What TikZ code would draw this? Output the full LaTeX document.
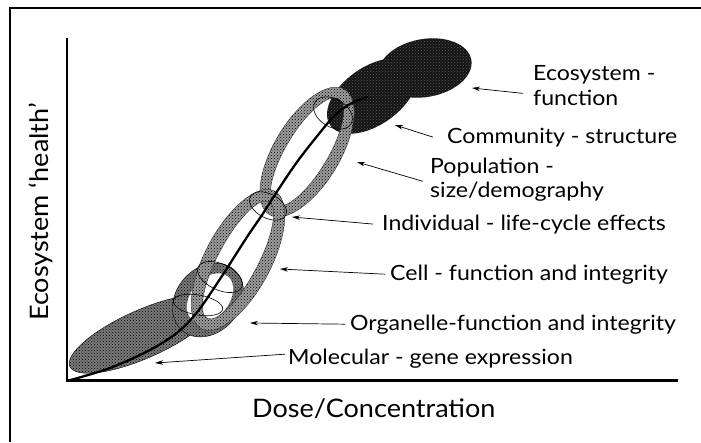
\documentclass[tikz,border=0pt]{standalone}
\usepackage{fontspec}
\setmainfont{Lato}[FakeStretch=1.1]
\newfontfamily\axfont{Lato}[FakeStretch=1.06]
\usetikzlibrary{patterns,arrows.meta}
\begin{document}
\begin{tikzpicture}[x=1pt,y=-1pt,
  lbl/.style={anchor=base west, inner sep=0pt, font=\fontsize{21}{25}\selectfont},
  axlbl/.style={inner sep=0pt, font=\axfont\fontsize{25.5}{30}\selectfont},
  ptr/.style={-{Stealth[length=8pt,width=4.5pt]}, line width=0.7pt},
  joint/.style={line width=0.6pt},
  band/.style={fill=black!38, even odd rule, draw=black!80, line width=0.4pt,
    postaction={pattern=crosshatch dots, pattern color=black}},
  darkband/.style={fill=black!52, draw=black, line width=0.4pt,
    postaction={pattern=crosshatch dots, pattern color=black}},
  blob/.style={fill=black!92, postaction={pattern=crosshatch dots, pattern color=white!35!black}},
]
\useasboundingbox (0,0) rectangle (701,442);
% frame
\draw[line width=1.3pt] (10,442) -- (10,8) -- (701,8);

% ecosystem / community (black)
\path[blob, rotate around={10:(425,68)}] (425,68) ellipse [x radius=47, y radius=29];
\path[blob, rotate around={35:(372,96)}] (372,96) ellipse [x radius=51, y radius=29];

% population tube
\path[band, rotate around={59:(307,152)}] (307,152) ellipse [x radius=73, y radius=33]
      (307,152) ellipse [x radius=62, y radius=21];

% molecular
\path[darkband, rotate around={24:(143,334)}] (143,334) ellipse [x radius=80, y radius=24];

% organelle
\path[darkband, rotate around={50:(208,300)}] (208,300) ellipse [x radius=40, y radius=32];
\path[fill=white, rotate around={50:(210,298)}] (210,298) ellipse [x radius=28, y radius=19];

% cell tube
\path[band, rotate around={62:(238,260)}] (238,260) ellipse [x radius=78, y radius=33]
      (238,260) ellipse [x radius=66, y radius=20];

% joints
\draw[joint, rotate around={-31:(333,113)}] (333,113) ellipse [x radius=21, y radius=14];
\draw[joint, rotate around={-28:(268,206)}] (268,206) ellipse [x radius=20, y radius=12];
\draw[joint, rotate around={-25:(220,277)}] (220,277) ellipse [x radius=24, y radius=13];
\draw[joint, rotate around={-10:(198,305)}] (198,305) ellipse [x radius=25, y radius=10];

% dose-response curve
\draw[line width=2.3pt, line cap=round] plot[smooth, tension=0.55] coordinates {(67,381) (110,368) (150,350) (178,332) (198,311) (222,276) (247,237) (262,215) (278,190) (297,162) (318,135) (336,114) (352,103) (367,97)};

% axes
\draw[line width=2pt] (67,38) -- (67,381);
\draw[line width=3pt] (66,380.5) -- (678,380.5);

% axis labels
\node[axlbl, rotate=90, anchor=base] (ylab) at (48,212) {Ecosystem ‘health’};
\node[axlbl, anchor=base west] (xlab) at (252,417) {Dose/Concentration};

% labels
\node[lbl] (eco1) at (533,80) {Ecosystem -};
\node[lbl] (eco2) at (533,105) {function};
\node[lbl] (comm) at (447,143) {Community - structure};
\node[lbl] (pop1) at (430,173) {Population -};
\node[lbl] (pop2) at (430,197) {size/demography};
\node[lbl] (indi) at (382,230) {Individual - life-cycle effects};
\node[lbl] (cell) at (390,280) {Cell - function and integrity};
\node[lbl] (orga) at (350,330) {Organelle-function and integrity};
\node[lbl] (mole) at (288,364) {Molecular - gene expression};

% arrow tips
\coordinate (tEco) at (472,88);
\coordinate (tComm) at (395,125);
\coordinate (tPop) at (357,162);
\coordinate (tInd) at (292,217);
\coordinate (tCell) at (280,269);
\coordinate (tOrg) at (250,323);
\coordinate (tMol) at (155,363);

\draw[ptr] ([xshift=-10pt,yshift=4pt]eco2.west) -- (tEco);
\draw[ptr] ([xshift=-14pt]comm.west) -- (tComm);
\draw[ptr] ([xshift=-7pt]pop2.north west) -- (tPop);
\draw[ptr] ([xshift=-9pt]indi.west) -- (tInd);
\draw[ptr] ([xshift=-5pt]cell.west) -- (tCell);
\draw[ptr] ([xshift=-5pt]orga.west) -- (tOrg);
\draw[ptr] ([xshift=-3pt,yshift=4pt]mole.west) -- (tMol);
\end{tikzpicture}
\end{document}
